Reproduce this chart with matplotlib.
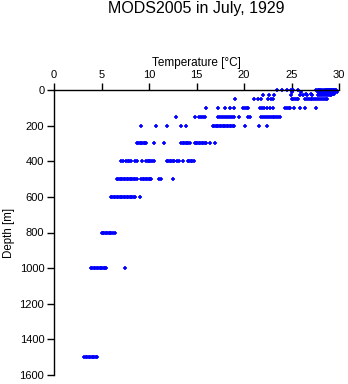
import numpy as np
import matplotlib
matplotlib.use("Agg")
import matplotlib.pyplot as plt

plt.rcParams['font.family'] = ['Liberation Sans', 'DejaVu Sans']

# Temperature readings [°C] grouped by sampling depth [m]
t_0 = [23.5, 24.0, 24.5, 24.9, 25.2, 25.7,
       27.6, 27.8, 27.9, 28.0, 28.1, 28.3, 28.5, 28.6, 28.7, 28.8, 28.9,
       29.0, 29.1, 29.2, 29.3, 29.4, 29.5, 29.6, 29.7]
t_10 = [25.0, 26.0, 27.8, 28.0, 28.2, 28.4, 28.6, 28.8, 29.0, 29.2, 29.4,
        29.6, 29.8]
t_20 = [26.5, 27.0, 28.0, 28.2, 28.4, 28.6, 28.8, 29.0, 29.2, 29.4, 29.5]
t_30 = [22.0, 22.6, 23.2, 24.9, 25.9, 26.2, 26.6, 27.2,
        27.8, 28.0, 28.2, 28.4, 28.6, 28.8, 29.0, 29.2]
t_50 = [19.0, 21.1, 21.5, 21.8, 22.5, 22.8, 23.1,
        25.0, 25.2, 25.4, 25.6, 25.7,
        26.4, 26.6, 26.8, 27.0, 27.2, 27.4, 27.6, 27.8, 28.0, 28.2,
        28.4, 28.6, 28.7]
t_100 = [16.0, 17.3, 18.0, 18.5, 18.9, 19.9, 20.1, 20.3, 20.4,
         21.7, 21.9, 22.1, 22.4, 22.7, 23.1,
         24.3, 24.5, 24.7, 24.8, 25.3, 25.9, 26.4, 27.6]
t_150 = [12.8, 14.8, 15.3, 15.5, 15.7, 15.9,
         17.3, 17.5, 17.7, 17.9, 18.1, 18.3, 18.5, 18.7, 18.9,
         19.5, 20.4, 20.6,
         21.8, 22.0, 22.2, 22.4, 22.6, 22.8, 23.0, 23.2, 23.4, 23.6, 23.8]
t_200 = [9.2, 10.7, 11.9, 13.4, 13.9,
         16.7, 16.85, 17.0, 17.15, 17.3, 17.45, 17.6, 17.75, 17.9, 18.05,
         18.2, 18.35, 18.5, 18.65, 18.8, 18.9,
         20.1, 21.6, 22.4]
t_300 = [8.7, 8.85, 9.0, 9.15, 9.3, 9.45, 9.6, 9.7, 10.5, 11.6,
         13.4, 13.55, 13.7, 13.85, 14.0, 14.15, 14.3,
         14.8, 14.95, 15.1, 15.25, 15.4, 15.55, 15.7, 15.85, 16.0,
         16.4, 16.9]
t_400 = [7.0, 7.3, 7.6, 7.75, 7.9, 8.1, 8.5, 8.7, 9.3,
         9.7, 9.85, 10.0, 10.15, 10.3, 10.5,
         11.9, 12.05, 12.2, 12.35, 12.5, 12.6, 12.9, 13.2, 13.6,
         14.1, 14.25, 14.4, 14.55, 14.7]
t_500 = [6.6, 6.75, 6.9, 7.05, 7.2, 7.35, 7.5, 7.65, 7.8, 7.95, 8.1,
         8.25, 8.4, 8.55, 8.7,
         9.2, 9.35, 9.5, 9.65, 9.8, 9.95, 10.1, 10.25,
         11.0, 11.3, 12.5]
t_600 = [6.0, 6.15, 6.3, 6.45, 6.6, 6.75, 6.9, 7.05, 7.2, 7.35, 7.5,
         7.65, 7.8, 7.95, 8.1, 8.25, 8.4, 8.5, 9.0]
t_800 = [5.0, 5.15, 5.3, 5.45, 5.6, 5.75, 5.9, 6.05, 6.2, 6.4]
t_1000 = [3.9, 4.05, 4.2, 4.35, 4.5, 4.65, 4.8, 4.95, 5.1, 5.25, 5.4,
          5.5, 7.5]
t_1500 = [3.2, 3.35, 3.5, 3.65, 3.8, 3.95, 4.1, 4.25, 4.4, 4.5]

profiles = [(0, t_0), (10, t_10), (20, t_20), (30, t_30), (50, t_50),
            (100, t_100), (150, t_150), (200, t_200), (300, t_300),
            (400, t_400), (500, t_500), (600, t_600), (800, t_800),
            (1000, t_1000), (1500, t_1500)]

temps = np.concatenate([np.asarray(t, float) for _, t in profiles])
depths = np.concatenate([np.full(len(t), d, float) for d, t in profiles])

fig = plt.figure(figsize=(3.48, 3.84), dpi=100)
ax = fig.add_axes([54 / 348, 1 - 375 / 384, 285 / 348, 285 / 384])

ax.plot(temps, depths, linestyle='none', marker='+', markersize=3,
        markeredgewidth=1.2, color='#0000ff', clip_on=False)

ax.set_xlim(0, 30)
ax.set_ylim(1600, 0)
ax.set_xticks(np.arange(0, 31, 5))
ax.set_yticks(np.arange(0, 1601, 200))

ax.xaxis.tick_top()
ax.xaxis.set_label_position('top')
ax.spines['right'].set_visible(False)
ax.spines['bottom'].set_visible(False)
for side in ('top', 'left'):
    ax.spines[side].set_linewidth(1.0)
ax.tick_params(axis='both', direction='out', length=5, width=1.0,
               labelsize=8, pad=2)

ax.set_xlabel('Temperature [°C]', fontsize=8.5, labelpad=3)
ax.set_ylabel('Depth [m]', fontsize=8.3, labelpad=3)
fig.text(196.5 / 348, 1 - 8 / 384, 'MODS2005 in July, 1929',
         ha='center', va='center', fontsize=11.5)

fig.savefig('out.png', dpi=100)
